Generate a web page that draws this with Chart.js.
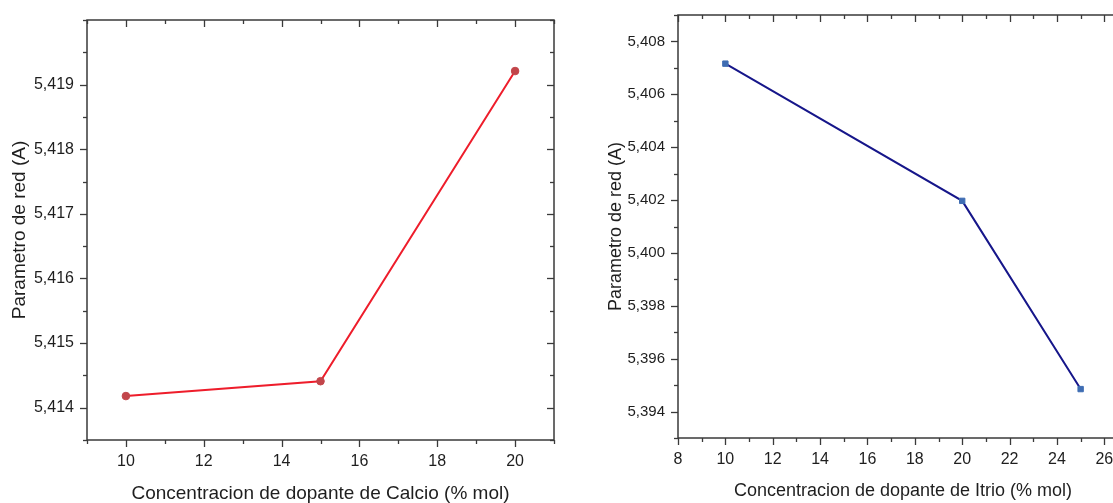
<!DOCTYPE html>
<html>
<head>
<meta charset="utf-8">
<script src="https://cdn.jsdelivr.net/npm/chart.js@4"></script>
<style>
  html, body { margin: 0; padding: 0; background: #fff; }
  body { width: 1113px; height: 503px; overflow: hidden; position: relative; }
  canvas { position: absolute; top: 0; }
  #calcio { left: 0; }
  #itrio { left: 560px; }
</style>
</head>
<body>
<canvas id="calcio" width="560" height="503"></canvas>
<canvas id="itrio" width="580" height="503"></canvas>
<script>
// Calcio series
const calcioX = [10, 15, 20];
const calcioY = [5.41418, 5.41441, 5.41921];
const calcioXTicks = [10, 12, 14, 16, 18, 20];
const calcioYTicks = [5.414, 5.415, 5.416, 5.417, 5.418, 5.419];

// Itrio series
const itrioX = [10, 20, 25];
const itrioY = [5.40716, 5.40197, 5.39485];
const itrioXTicks = [8, 10, 12, 14, 16, 18, 20, 22, 24, 26];
const itrioYTicks = [5.394, 5.396, 5.398, 5.400, 5.402, 5.404, 5.406, 5.408];

const FONT = "'Liberation Sans', Arial, sans-serif";
const TXT = '#1e1e1e';

// box + Origin style ticks (outward on left/bottom, inward on top/right)
const frameTicks = {
  id: 'frameTicks',
  beforeDatasetsDraw(chart, args, opts) {
    const { ctx, chartArea: a, scales: { x, y } } = chart;
    ctx.save();
    ctx.strokeStyle = '#3a3a3a';
    ctx.lineWidth = 1.5;
    ctx.strokeRect(a.left, a.top, a.right - a.left, a.bottom - a.top);
    ctx.lineWidth = 1.3;
    const isMajor = (scale, v) => scale.ticks.some(t => Math.abs(t.value - v) < opts.eps);
    const line = (x0, y0, x1, y1) => { ctx.beginPath(); ctx.moveTo(x0, y0); ctx.lineTo(x1, y1); ctx.stroke(); };

    for (let n = Math.ceil(x.min / opts.xMinor - 1e-6); n * opts.xMinor <= x.max + 1e-9; n++) {
      const v = n * opts.xMinor;
      const px = Math.round(x.getPixelForValue(v)) + 0.5;
      const len = isMajor(x, v) ? 7 : 4;
      line(px, a.bottom, px, a.bottom + len);
      line(px, a.top, px, a.top + len);
    }
    for (let n = Math.ceil(y.min / opts.yMinor - 1e-6); n * opts.yMinor <= y.max + 1e-9; n++) {
      const v = n * opts.yMinor;
      const py = Math.round(y.getPixelForValue(v)) + 0.5;
      const len = isMajor(y, v) ? 7 : 4;
      line(a.left - len, py, a.left, py);
      line(a.right - len, py, a.right, py);
    }
    ctx.restore();
  }
};

function makeChart(id, o) {
  return new Chart(document.getElementById(id), {
    type: 'line',
    data: {
      datasets: [{
        data: o.xs.map((v, i) => ({ x: v, y: o.ys[i] })),
        borderColor: o.lineColor,
        borderWidth: 2,
        pointStyle: o.pointStyle,
        pointRadius: o.pointRadius,
        pointBackgroundColor: o.pointColor,
        pointBorderColor: o.pointColor,
        pointBorderWidth: 1,
        tension: 0,
        clip: false
      }]
    },
    options: {
      responsive: false,
      animation: false,
      events: [],
      layout: { autoPadding: false, padding: o.padding },
      plugins: {
        legend: { display: false },
        tooltip: { enabled: false },
        frameTicks: { xMinor: o.xMinor, yMinor: o.yMinor, eps: o.yMinor / 10 }
      },
      scales: {
        x: {
          type: 'linear',
          min: o.xMin, max: o.xMax,
          grid: { display: false, drawTicks: false },
          border: { display: false },
          afterBuildTicks: s => { s.ticks = o.xTicks.map(v => ({ value: v })); },
          afterFit: s => { s.height = o.xAxisH; s.paddingLeft = 0; s.paddingRight = 0; },
          ticks: {
            padding: 12,
            color: TXT,
            font: { family: FONT, size: 16 },
            callback: v => String(v)
          },
          title: {
            display: true,
            text: o.xTitle,
            color: TXT,
            font: { family: FONT, size: o.titleSize },
            padding: { top: 0, bottom: o.xTitlePad }
          }
        },
        y: {
          min: o.yMin, max: o.yMax,
          grid: { display: false, drawTicks: false },
          border: { display: false },
          afterBuildTicks: s => { s.ticks = o.yTicks.map(v => ({ value: v })); },
          afterFit: s => { s.width = o.yAxisW; s.paddingTop = 0; s.paddingBottom = 0; },
          ticks: {
            padding: 13,
            color: TXT,
            font: { family: FONT, size: o.yTickSize },
            callback: v => v.toFixed(3).replace('.', ',')
          },
          title: {
            display: true,
            text: 'Parametro de red (A)',
            color: TXT,
            font: { family: FONT, size: o.titleSize },
            padding: { top: o.yTitlePad, bottom: 0 }
          }
        }
      }
    },
    plugins: [frameTicks]
  });
}

makeChart('calcio', {
  xs: calcioX, ys: calcioY,
  xTicks: calcioXTicks, yTicks: calcioYTicks,
  xMin: 9, xMax: 21, yMin: 5.4135, yMax: 5.420,
  xMinor: 1, yMinor: 0.0005,
  lineColor: '#ee1d2b', pointColor: '#c2454a',
  pointStyle: 'circle', pointRadius: 3.8,
  padding: { left: 0, right: 6, top: 20, bottom: 0 },
  yAxisW: 87, xAxisH: 63, yTickSize: 16,
  titleSize: 19, xTitlePad: -2, yTitlePad: 8,
  xTitle: 'Concentracion de dopante de Calcio (% mol)'
});

makeChart('itrio', {
  xs: itrioX, ys: itrioY,
  xTicks: itrioXTicks, yTicks: itrioYTicks,
  xMin: 8, xMax: 27, yMin: 5.393, yMax: 5.409,
  xMinor: 1, yMinor: 0.001,
  lineColor: '#16168a', pointColor: '#3f6db3',
  pointStyle: 'rect', pointRadius: 3.8,
  padding: { left: 0, right: 12, top: 15, bottom: 0 },
  yAxisW: 118, xAxisH: 65, yTickSize: 15,
  titleSize: 18, xTitlePad: 1, yTitlePad: 45,
  xTitle: 'Concentracion de dopante de Itrio (% mol)'
});
</script>
</body>
</html>
